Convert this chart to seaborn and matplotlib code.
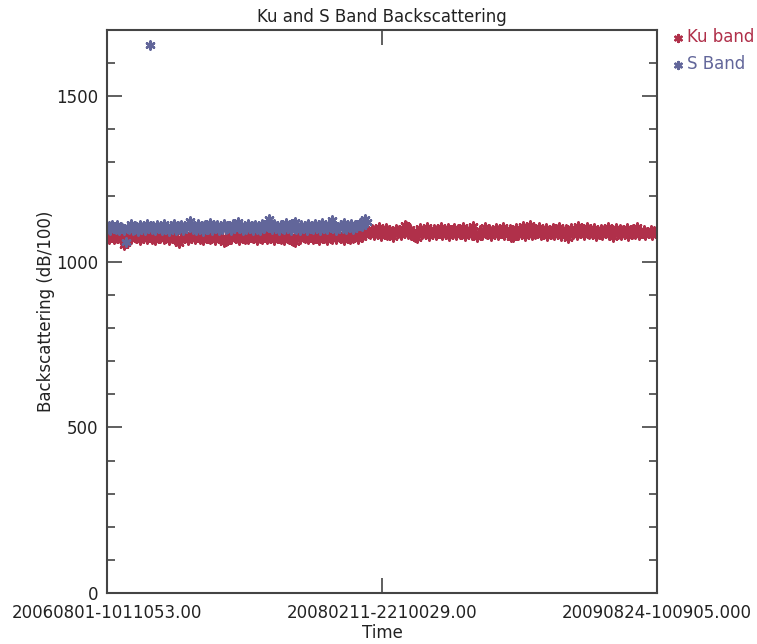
# Ku and S band backscattering time series (IDL-style plot)

import numpy as np
import pandas as pd
import matplotlib
matplotlib.use("Agg")
import matplotlib.pyplot as plt
import seaborn as sns

# ---- data ----
T_START = pd.Timestamp("2006-08-01 10:11:05")
T_MID = pd.Timestamp("2008-02-11 22:10:02")
T_END = pd.Timestamp("2009-08-24 10:09:05")
tick_labels = ["20060801-1011053.00", "20080211-2210029.00", "20090824-100905.000"]

# Ku band, one sample every 3.5 days over the whole period
ku_band = [
    1080, 1068, 1076, 1085, 1070, 1078, 1072, 1083, 1067, 1075,
    1050, 1058, 1074, 1081, 1069, 1077, 1084, 1071, 1079, 1066,
    1082, 1073, 1078, 1068, 1085, 1074, 1070, 1080, 1067, 1076,
    1083, 1071, 1078, 1069, 1084, 1075, 1066, 1079, 1072, 1086,
    1068, 1062, 1058, 1070, 1081, 1073, 1077, 1067, 1084, 1071,
    1079, 1068, 1083, 1074, 1070, 1080, 1066, 1077, 1085, 1072,
    1069, 1081, 1075, 1067, 1078, 1084, 1070, 1076, 1060, 1062,
    1073, 1082, 1069, 1079, 1086, 1071, 1077, 1066, 1083, 1074,
    1070, 1080, 1068, 1076, 1085, 1072, 1078, 1067, 1082, 1073,
    1069, 1081, 1075, 1068, 1084, 1071, 1079, 1066, 1077, 1083,
    1072, 1070, 1080, 1067, 1076, 1085, 1069, 1078, 1064, 1061,
    1074, 1082, 1070, 1079, 1086, 1072, 1077, 1068, 1083, 1075,
    1069, 1081, 1073, 1067, 1078, 1084, 1071, 1076, 1066, 1082,
    1074, 1070, 1080, 1068, 1077, 1085, 1072, 1079, 1067, 1083,
    1075, 1069, 1081, 1073, 1078, 1086, 1070, 1084, 1076, 1088,
    1082, 1090,
    1092, 1084, 1100, 1080, 1096, 1088, 1104, 1079, 1093, 1086,
    1101, 1082, 1097, 1089, 1075, 1083, 1099, 1087, 1095, 1081,
    1103, 1112, 1108, 1085, 1098, 1080, 1094, 1074, 1072, 1090,
    1102, 1083, 1097, 1088, 1105, 1079, 1093, 1086, 1100, 1082,
    1096, 1089, 1104, 1080, 1092, 1085, 1101, 1078, 1095, 1087,
    1103, 1081, 1098, 1084, 1090, 1106, 1079, 1094, 1086, 1100,
    1082, 1109, 1088, 1076, 1083, 1097, 1080, 1092, 1104, 1085,
    1099, 1078, 1093, 1087, 1101, 1081, 1096, 1089, 1105, 1080,
    1094, 1084, 1100, 1076, 1074, 1091, 1103, 1082, 1097, 1088,
    1107, 1079, 1095, 1086, 1110, 1081, 1098, 1084, 1092, 1104,
    1080, 1096, 1087, 1102, 1078, 1093, 1085, 1101, 1082, 1099,
    1089, 1105, 1079, 1094, 1086, 1100, 1073, 1091, 1103, 1084,
    1097, 1081, 1108, 1088, 1095, 1080, 1092, 1104, 1083, 1098,
    1087, 1102, 1079, 1093, 1085, 1100, 1081, 1096, 1089, 1106,
    1082, 1094, 1076, 1090, 1103, 1084, 1099, 1080, 1095, 1087,
    1101, 1078, 1092, 1085, 1098, 1083, 1104, 1080, 1093, 1088,
    1097, 1082, 1090, 1086, 1095, 1081, 1092, 1088,
]

# S band, same sampling, stops early 2008 (one outlier near 1655)
s_band = [
    1100, 1108, 1096, 1112, 1103, 1098, 1110, 1095, 1106, 1101,
    1097, 1060, 1104, 1099, 1113, 1096, 1107, 1102, 1094, 1110,
    1100, 1105, 1097, 1114, 1103, 1655, 1098, 1108, 1095, 1111,
    1101, 1106, 1096, 1113, 1099, 1104, 1094, 1109, 1102, 1115,
    1097, 1107, 1100, 1112, 1095, 1105, 1103, 1114, 1124, 1110,
    1098, 1106, 1096, 1113, 1101, 1108, 1094, 1111, 1103, 1099,
    1116, 1097, 1107, 1102, 1112, 1095, 1105, 1100, 1114, 1098,
    1109, 1104, 1096, 1113, 1101, 1107, 1120, 1103, 1110, 1097,
    1106, 1099, 1115, 1102, 1108, 1095, 1112, 1100, 1105, 1097,
    1114, 1103, 1109, 1118, 1128, 1106, 1098, 1113, 1101, 1107,
    1095, 1111, 1104, 1099, 1116, 1102, 1108, 1096, 1114, 1120,
    1100, 1106, 1097, 1112, 1103, 1109, 1095, 1115, 1101, 1107,
    1098, 1113, 1104, 1110, 1096, 1116, 1102, 1108, 1099, 1114,
    1105, 1126, 1111, 1097, 1106, 1101, 1112, 1103, 1117, 1099,
    1108, 1104, 1114, 1100, 1110, 1106, 1112, 1118, 1109, 1115,
    1130, 1120,
]

ku_time = pd.date_range(T_START, periods=len(ku_band), freq="84h")
s_time = pd.date_range(T_START, periods=len(s_band), freq="84h")

KU_COLOR = "#B0304A"
S_COLOR = "#62669A"

# ---- plot ----
sns.set_style("white")
plt.rcParams["font.family"] = ["DejaVu Sans"]

fig = plt.figure(figsize=(7.57, 6.44), dpi=100)
ax = fig.add_axes([107 / 757, 51 / 644, 550 / 757, 563 / 644])

asterisk = (6, 2, 0)
sns.scatterplot(x=ku_time, y=ku_band, ax=ax, marker=asterisk, s=34,
                color=KU_COLOR, edgecolor=KU_COLOR, linewidth=1.8, label="Ku band")
sns.scatterplot(x=s_time, y=s_band, ax=ax, marker=asterisk, s=34,
                color=S_COLOR, edgecolor=S_COLOR, linewidth=1.8, label="S Band")

ax.set_xlim(T_START, T_END)
ax.set_ylim(0, 1700)
ax.set_xticks([T_START, T_MID, T_END])
ax.set_xticklabels(tick_labels)
ax.set_yticks([0, 500, 1000, 1500])
ax.set_yticks(np.arange(0, 1701, 100), minor=True)

ax.tick_params(axis="both", which="major", direction="in", length=11, width=1.2,
               colors="#444444", labelcolor="#222222", labelsize=12,
               bottom=True, left=True, top=True, right=True, pad=6)
ax.tick_params(axis="y", which="minor", direction="in", length=6, width=1.2,
               colors="#444444", left=True, right=True)
ax.tick_params(axis="x", which="minor", bottom=False, top=False)
ax.tick_params(axis="x", which="major", pad=8)

for sp in ax.spines.values():
    sp.set_color("#444444")
    sp.set_linewidth(1.5)

ax.set_title("Ku and S Band Backscattering", fontsize=12, color="#222222", pad=6)
ax.set_xlabel("Time", fontsize=12, color="#222222", labelpad=1)
ax.set_ylabel("Backscattering (dB/100)", fontsize=12, color="#222222", labelpad=1)

leg = ax.legend(loc="upper left", bbox_to_anchor=(1.01, 1.015), frameon=False,
                handletextpad=0.05, handlelength=1.0, borderaxespad=0.0,
                fontsize=12, labelspacing=0.55, markerscale=0.85)
for txt, c in zip(leg.get_texts(), [KU_COLOR, S_COLOR]):
    txt.set_color(c)

fig.savefig("out.png", dpi=100)
